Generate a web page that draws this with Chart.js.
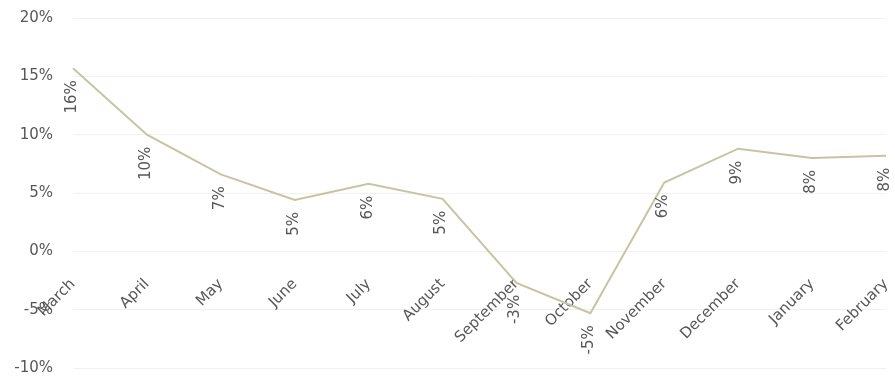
<!DOCTYPE html>
<html>
<head>
<meta charset="utf-8">
<script src="https://cdn.jsdelivr.net/npm/chart.js@4/dist/chart.umd.min.js"></script>
<style>
  html, body { margin: 0; padding: 0; background: #fff; }
  #wrap { width: 895px; height: 384px; position: relative; }
</style>
</head>
<body>
<div id="wrap"><canvas id="chart"></canvas></div>
<script>
  // monthly change, in percent
  const months = ['March', 'April', 'May', 'June', 'July', 'August',
    'September', 'October', 'November', 'December', 'January', 'February'];
  const values = [15.7, 10.0, 6.6, 4.4, 5.8, 4.5, -2.7, -5.3, 5.9, 8.8, 8.0, 8.2];
  const pointLabels = ['16%', '10%', '7%', '5%', '6%', '5%', '-3%', '-5%', '6%', '9%', '8%', '8%'];

  const yMin = -10;
  const yMax = 20;
  const yStep = 5;

  const textColor = '#575757';
  const fontFamily = '"DejaVu Sans", sans-serif';

  // draws the vertical value labels under each point
  const valueLabels = {
    id: 'valueLabels',
    afterDatasetsDraw(chart) {
      const ctx = chart.ctx;
      const meta = chart.getDatasetMeta(0);
      ctx.save();
      ctx.font = '15px ' + fontFamily;
      ctx.fillStyle = textColor;
      ctx.textAlign = 'right';
      ctx.textBaseline = 'middle';
      meta.data.forEach((pt, i) => {
        ctx.save();
        ctx.translate(pt.x - 1, pt.y + 12);
        ctx.rotate(-Math.PI / 2);
        ctx.fillText(pointLabels[i], 0, 0);
        ctx.restore();
      });
      ctx.restore();
    }
  };

  new Chart(document.getElementById('chart'), {
    type: 'line',
    data: {
      labels: months,
      datasets: [{
        data: values,
        borderColor: '#c6c4a2',
        borderWidth: 2,
        tension: 0,
        pointRadius: 0,
        fill: false
      }]
    },
    options: {
      responsive: true,
      maintainAspectRatio: false,
      animation: false,
      layout: { padding: { left: 0, right: 9, top: 18, bottom: 16 } },
      plugins: {
        legend: { display: false },
        tooltip: { enabled: false }
      },
      scales: {
        x: {
          position: { y: 0 },
          offset: false,
          grid: { display: false, drawTicks: false },
          border: { display: false },
          ticks: {
            autoSkip: false,
            minRotation: 45,
            maxRotation: 45,
            padding: 24,
            color: textColor,
            font: { family: fontFamily, size: 15 }
          },
          afterFit(scale) {
            scale.height = 0;
            scale.paddingLeft = 0;
            scale.paddingRight = 0;
          }
        },
        y: {
          min: yMin,
          max: yMax,
          grid: { color: '#f1f1f1', drawTicks: false },
          border: { display: false },
          ticks: {
            stepSize: yStep,
            padding: 20,
            color: textColor,
            font: { family: fontFamily, size: 15 },
            callback: v => v + '%'
          },
          afterFit(scale) {
            scale.width = 73;
            scale.paddingTop = 0;
            scale.paddingBottom = 0;
          }
        }
      }
    },
    plugins: [valueLabels]
  });
</script>
</body>
</html>
